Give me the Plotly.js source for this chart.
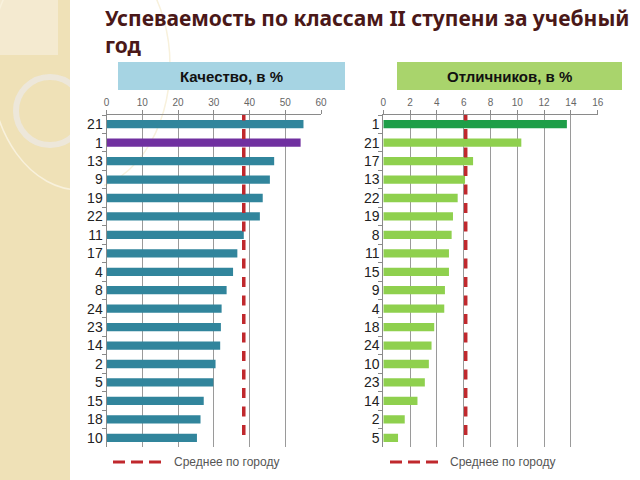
<!DOCTYPE html>
<html>
<head>
<meta charset="utf-8">
<script src="https://cdn.plot.ly/plotly-3.0.1.min.js"></script>
<style>html,body{margin:0;padding:0;background:#fff;}#chart{width:640px;height:480px;}</style>
</head>
<body>
<div id="chart"></div>
<script>
// ---- data ----
const qualityClasses = ["21","1","13","9","19","22","11","17","4","8","24","23","14","2","5","15","18","10"];
const qualityValues = [55.1,54.3,46.9,45.7,43.7,42.9,38.4,36.6,35.4,33.6,32.2,32.0,31.8,30.5,29.9,27.2,26.3,25.3];
const excellentClasses = ["1","21","17","13","22","19","8","11","15","9","4","18","24","10","23","14","2","5"];
const excellentValues = [13.7,10.3,6.7,6.1,5.55,5.2,5.1,4.9,4.9,4.6,4.55,3.8,3.6,3.4,3.1,2.55,1.6,1.1];
const cityAvgQuality = 38.4;
const cityAvgExcellent = 6.15;
const highlightClass = "1";
const titleText = "Успеваемость по классам II ступени за учебный<br>год";
const leftHeader = "Качество, в %";
const rightHeader = "Отличников, в %";
const legendText = "Среднее по городу";

// ---- styling ----
const W = 640, H = 480;
const px = v => v / W;
const py = v => 1 - v / H;
const teal = "#31859c", purple = "#7030a0";
const lightGreen = "#8fd04e", darkGreen = "#1e9e48";
const red = "#c0282d";
const yDomain = [py(447), py(115)];

const qualityColors = qualityClasses.map(c => c === highlightClass ? purple : teal);
const excellentColors = excellentClasses.map(c => c === highlightClass ? darkGreen : lightGreen);

const traces = [
  {type: "bar", orientation: "h", x: qualityValues, y: qualityClasses, xaxis: "x", yaxis: "y",
   marker: {color: qualityColors}, showlegend: false, hoverinfo: "x+y"},
  {type: "bar", orientation: "h", x: excellentValues, y: excellentClasses, xaxis: "x2", yaxis: "y2",
   marker: {color: excellentColors}, showlegend: false, hoverinfo: "x+y"},
  {type: "scatter", mode: "lines", x: [cityAvgQuality, cityAvgQuality], y: [0.036, 1.018],
   xaxis: "x", yaxis: "y3", cliponaxis: false, showlegend: false,
   line: {color: red, width: 3.5, dash: "10px,8.5px"}},
  {type: "scatter", mode: "lines", x: [cityAvgExcellent, cityAvgExcellent], y: [0.036, 1.018],
   xaxis: "x2", yaxis: "y4", cliponaxis: false, showlegend: false,
   line: {color: red, width: 3.5, dash: "10px,8.5px"}}
];

const xCommon = {
  side: "top", showgrid: true, gridcolor: "#9a9a9a", gridwidth: 1,
  showline: true, linecolor: "#8a8a8a", linewidth: 1,
  ticks: "outside", ticklen: 4, tickcolor: "#8a8a8a",
  tickfont: {size: 10, color: "#666", family: "Liberation Sans, Arial, sans-serif"},
  zeroline: false, fixedrange: true
};
const yCommon = {
  type: "category", autorange: false, range: [17.5, -0.5],
  showline: true, linecolor: "#8a8a8a", linewidth: 1,
  ticks: "outside", ticklen: 4, tickcolor: "#8a8a8a", tickson: "boundaries",
  showgrid: false, zeroline: false,
  tickfont: {size: 14, color: "#222", family: "Liberation Sans, Arial, sans-serif"},
  domain: yDomain, fixedrange: true
};

const layout = {
  width: W, height: H,
  margin: {l: 0, r: 0, t: 0, b: 0},
  paper_bgcolor: "#ffffff", plot_bgcolor: "#ffffff",
  font: {family: "Liberation Sans, Arial, sans-serif"},
  bargap: 0.55,
  showlegend: false,
  xaxis: Object.assign({}, xCommon, {domain: [px(106.5), px(321)], range: [0, 60], dtick: 10, anchor: "y"}),
  xaxis2: Object.assign({}, xCommon, {domain: [px(383.3), px(597.7)], range: [0, 16], dtick: 2, anchor: "y2"}),
  yaxis: Object.assign({}, yCommon, {categoryorder: "array", categoryarray: qualityClasses, anchor: "x"}),
  yaxis2: Object.assign({}, yCommon, {categoryorder: "array", categoryarray: excellentClasses, anchor: "x2"}),
  yaxis3: {overlaying: "y", anchor: "x", range: [0, 1], visible: false, fixedrange: true},
  yaxis4: {overlaying: "y2", anchor: "x2", range: [0, 1], visible: false, fixedrange: true},
  shapes: [
    // decorative side panel
    {type: "rect", xref: "paper", yref: "paper", x0: 0, x1: px(70), y0: 0, y1: 1, fillcolor: "#efe1b7", line: {width: 0}, layer: "below"},
    {type: "rect", xref: "paper", yref: "paper", x0: 0, x1: px(58), y0: py(55), y1: 1, fillcolor: "#f4ead0", line: {width: 0}, layer: "below"},
    {type: "circle", xref: "paper", yref: "paper", x0: px(-10), x1: px(170), y0: py(190), y1: py(-60), line: {color: "#f8f1dc", width: 1.5}, layer: "below"},
    {type: "circle", xref: "paper", yref: "paper", x0: px(16), x1: px(84), y0: py(145), y1: py(77), line: {color: "rgba(236,232,222,0.9)", width: 6}, layer: "below"},
    {type: "rect", xref: "paper", yref: "paper", x0: px(70), x1: px(104), y0: py(200), y1: 1, fillcolor: "#ffffff", line: {width: 0}, layer: "below"},
    // header boxes
    {type: "rect", xref: "paper", yref: "paper", x0: px(118), x1: px(345), y0: py(90), y1: py(62), fillcolor: "#a6d4e3", line: {width: 0}, layer: "below"},
    {type: "rect", xref: "paper", yref: "paper", x0: px(397), x1: px(622), y0: py(90), y1: py(62), fillcolor: "#a9d46c", line: {width: 0}, layer: "below"},
    // legend lines
    {type: "line", xref: "paper", yref: "paper", x0: px(113), x1: px(162), y0: py(462), y1: py(462), line: {color: red, width: 3, dash: "12px,6px"}},
    {type: "line", xref: "paper", yref: "paper", x0: px(390), x1: px(439), y0: py(462), y1: py(462), line: {color: red, width: 3, dash: "12px,6px"}}
  ],
  annotations: [
    {text: titleText, xref: "paper", yref: "paper", x: px(103), y: py(2), xanchor: "left", yanchor: "top", align: "left", showarrow: false,
     font: {family: "Noto Sans, Open Sans, sans-serif", size: 21, color: "#4a1818", weight: "bold"}},
    {text: leftHeader, xref: "paper", yref: "paper", x: px(231.5), y: py(76), xanchor: "center", yanchor: "middle", showarrow: false,
     font: {size: 15, color: "#111", family: "Liberation Sans Narrow, Liberation Sans, Arial, sans-serif", weight: "bold"}},
    {text: rightHeader, xref: "paper", yref: "paper", x: px(509.5), y: py(76), xanchor: "center", yanchor: "middle", showarrow: false,
     font: {size: 15, color: "#111", family: "Liberation Sans Narrow, Liberation Sans, Arial, sans-serif", weight: "bold"}},
    {text: legendText, xref: "paper", yref: "paper", x: px(172), y: py(462), xanchor: "left", yanchor: "middle", showarrow: false,
     font: {size: 12, color: "#555"}},
    {text: legendText, xref: "paper", yref: "paper", x: px(448), y: py(462), xanchor: "left", yanchor: "middle", showarrow: false,
     font: {size: 12, color: "#555"}}
  ]
};

Plotly.newPlot("chart", traces, layout, {displayModeBar: false, staticPlot: true});
</script>
</body>
</html>
